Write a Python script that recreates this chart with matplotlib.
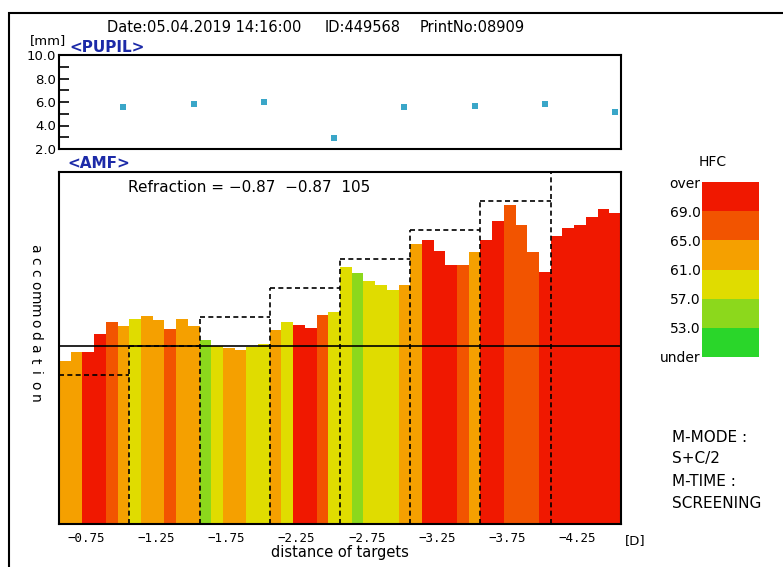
import numpy as np
import matplotlib
matplotlib.use("Agg")
import matplotlib.pyplot as plt
from matplotlib.patches import Rectangle
from matplotlib.ticker import MultipleLocator

# target distances (D) and accommodation target levels per block
target_labels = ["−0.75", "−1.25", "−1.75", "−2.25", "−2.75", "−3.25", "−3.75", "−4.25"]
target_levels = [0.75, 1.25, 1.75, 2.25, 2.75, 3.25, 3.75, 4.25]
reference_level = 1.25

# accommodation response, 6 samples per target block
accommodation = [
    0.99, 1.15, 1.15, 1.45, 1.66, 1.59,
    1.72, 1.76, 1.70, 1.55, 1.72, 1.59,
    1.35, 1.25, 1.22, 1.18, 1.23, 1.28,
    1.53, 1.66, 1.62, 1.56, 1.78, 1.83,
    2.61, 2.50, 2.37, 2.31, 2.21, 2.30,
    3.01, 3.08, 2.88, 2.64, 2.64, 2.87,
    3.07, 3.41, 3.68, 3.34, 2.87, 2.53,
    3.14, 3.28, 3.34, 3.48, 3.61, 3.55,
]
# HFC class per sample: 0 over/69+, 1 65-69, 2 61-65, 3 57-61, 4 53-57, 5 under
hfc_class = [
    2, 2, 0, 0, 1, 2,
    3, 2, 2, 1, 2, 2,
    4, 3, 2, 2, 3, 3,
    2, 3, 0, 0, 1, 3,
    3, 4, 3, 3, 3, 2,
    2, 0, 0, 0, 1, 2,
    0, 0, 1, 1, 1, 0,
    0, 0, 0, 0, 0, 0,
]
pupil_mm = [5.6, 5.8, 5.97, 2.96, 5.6, 5.63, 5.8, 5.12]

hfc_colors = ["#f01800", "#f25400", "#f5a000", "#e0dc00", "#8cd81c", "#2ad62a"]
hfc_labels = ["over", "69.0", "65.0", "61.0", "57.0", "53.0", "under"]

n_per = 6
n_blocks = len(target_levels)
n_bars = n_per * n_blocks
y_min, y_max = -1.82, 4.25

fig = plt.figure(figsize=(7.83, 5.67), dpi=100)

# outer frame of the printout
fig.add_artist(Rectangle((9 / 783, -0.1), 1.2, (567 - 13) / 567 + 0.1,
                         transform=fig.transFigure, fill=False,
                         edgecolor="black", linewidth=1.5))

# ---- AMF main panel
ax = fig.add_axes([59 / 783, 43 / 567, 562 / 783, 352 / 567])
x = np.arange(n_bars)
ax.bar(x, np.array(accommodation) - y_min, bottom=y_min, width=1.0,
       align="edge", color=[hfc_colors[c] for c in hfc_class], linewidth=0)

starts = np.arange(n_blocks) * n_per
ax.hlines(target_levels, starts, starts + n_per, colors="black",
          linestyles=(0, (3, 2)), linewidth=1.2)
ax.vlines(starts[1:], y_min, target_levels[1:], colors="black",
          linestyles=(0, (3, 2)), linewidth=1.2)
ax.axhline(reference_level, color="black", linewidth=1.2)

ax.set_xlim(0, n_bars)
ax.set_ylim(y_min, y_max)
ax.set_yticks([])
ax.set_xticks(starts + n_per / 2 - 0.7)
ax.set_xticklabels(target_labels, family="DejaVu Sans Mono", fontsize=9)
ax.tick_params(axis="x", length=0, pad=6)
for s in ax.spines.values():
    s.set_linewidth(1.5)

ax.text(0.122, 0.955, "Refraction = −0.87  −0.87  105", transform=ax.transAxes,
        fontsize=11, va="center", ha="left")

fig.text(340 / 783, 1 - 553 / 567, "distance of targets", ha="center",
         va="center", fontsize=10.5)
fig.text(625 / 783, 1 - 541 / 567, "[D]", ha="left", va="center", fontsize=9.5)

# vertical axis caption, one letter at a time
word = "accommodation"
for i, ch in enumerate(word):
    yy = 248 + i * 12.5
    fig.text(35 / 783, 1 - yy / 567, ch, rotation=270, ha="center",
             va="center", fontsize=10)

# ---- PUPIL panel
axp = fig.add_axes([59 / 783, 418 / 567, 562 / 783, 94 / 567])
axp.scatter(starts + n_per - 0.5, pupil_mm, marker="s", s=14,
            color="#3aa6c8", linewidths=0)
axp.set_xlim(0, n_bars)
axp.set_ylim(2, 10)
axp.set_xticks([])
axp.set_yticks([2, 4, 6, 8, 10])
axp.set_yticklabels(["2.0", "4.0", "6.0", "8.0", "10.0"], fontsize=9.5)
axp.yaxis.set_minor_locator(MultipleLocator(1))
axp.tick_params(axis="y", which="both", direction="in", length=7, width=1.2,
                pad=2)
for s in axp.spines.values():
    s.set_linewidth(1.5)

fig.text(30 / 783, 1 - 41 / 567, "[mm]", fontsize=9.5, va="center")
fig.text(69 / 783, 1 - 47 / 567, "<PUPIL>", fontsize=11, va="center",
         color="#1c2aa8", fontweight="bold")
fig.text(67 / 783, 1 - 163 / 567, "<AMF>", fontsize=11, va="center",
         color="#1c2aa8", fontweight="bold")

# print header
for txt, xx in [("Date:05.04.2019 14:16:00", 107), ("ID:449568", 325),
                ("PrintNo:08909", 420)]:
    fig.text(xx / 783, 1 - 27 / 567, txt, fontsize=10.5, va="center")

# ---- HFC colour scale
axc = fig.add_axes([702 / 783, 210 / 567, 57 / 783, 175 / 567])
levels = np.arange(len(hfc_colors))
axc.bar(np.zeros(len(levels)), np.ones(len(levels)), bottom=levels[::-1],
        width=1.0, align="edge", color=hfc_colors, linewidth=0)
axc.set_xlim(0, 1)
axc.set_ylim(0, len(hfc_colors))
axc.set_xticks([])
axc.set_yticks(np.arange(len(hfc_labels)))
axc.set_yticklabels(hfc_labels[::-1], fontsize=10)
axc.tick_params(axis="y", length=0, pad=1)
for s in axc.spines.values():
    s.set_visible(False)
fig.text(713 / 783, 1 - 162 / 567, "HFC", ha="center", va="center",
         fontsize=10)

# measurement mode info
for txt, yy in [("M-MODE :", 438), ("S+C/2", 458), ("M-TIME :", 481),
                ("SCREENING", 504)]:
    fig.text(672 / 783, 1 - yy / 567, txt, fontsize=11, va="center")

fig.savefig("out.png", dpi=100)
